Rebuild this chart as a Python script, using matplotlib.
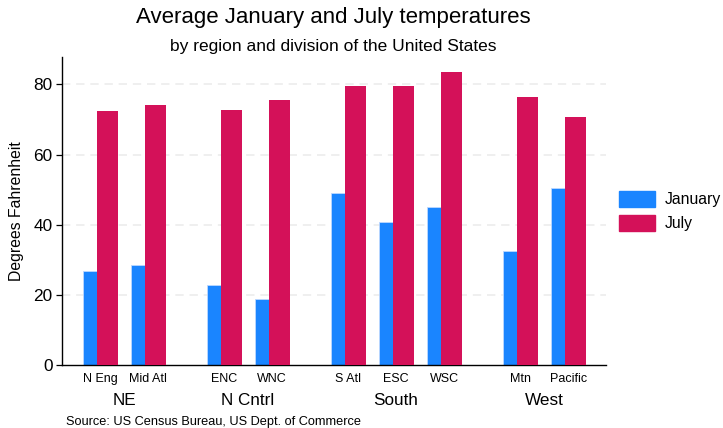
import matplotlib
matplotlib.use('Agg')
import matplotlib.pyplot as plt
import matplotlib.patches as mpatches
import numpy as np

plt.rcParams['font.family'] = ['Liberation Sans', 'DejaVu Sans']

# dados
regioes = ['NE', 'N Cntrl', 'South', 'West']
divisoes = [['N Eng', 'Mid Atl'], ['ENC', 'WNC'], ['S Atl', 'ESC', 'WSC'], ['Mtn', 'Pacific']]
janeiro = [26.9, 28.5, 22.8, 18.9, 49.1, 40.7, 45.0, 32.6, 50.4]
julho = [72.4, 74.1, 72.6, 75.5, 79.6, 79.5, 83.5, 76.4, 70.7]

cor_jan = '#1A85FF'
cor_jul = '#D41159'

fig = plt.figure(figsize=(7.23, 4.28), dpi=100)
ax = fig.add_axes([0.0862, 0.1472, 0.7518, 0.7196])

# posicoes das divisoes (espaco extra entre regioes)
gap_regiao = 1.573
posicoes = []
centros_regiao = []
x = 0.0
for i, divs in enumerate(divisoes):
    if i > 0:
        x += gap_regiao - 1
    inicio = x
    for d in divs:
        posicoes.append(x)
        x += 1
    centros_regiao.append((inicio + x - 1) / 2)
posicoes = np.array(posicoes)
nomes_div = [d for divs in divisoes for d in divs]

# barras
w_jan = 0.30
w_jul = 0.436
off = 0.06
ax.bar(posicoes - off - w_jan, janeiro, width=w_jan, align='edge', color=cor_jan,
       edgecolor='#bcd8ff', linewidth=0.6, zorder=2)
ax.bar(posicoes - off, julho, width=w_jul, align='edge', color=cor_jul,
       linewidth=0, zorder=3)

ax.set_xlim(-0.78, posicoes[-1] + 0.78)
ax.set_ylim(0, 87.8)

# grade
ax.set_yticks([0, 20, 40, 60, 80])
ax.tick_params(axis='y', labelsize=12.4, length=4, width=0.9, direction='out', pad=3)
for v in [20, 40, 60, 80]:
    ax.axhline(v, color='#ececec', linewidth=1.2, linestyle=(0, (5, 3.5)), zorder=1)

ax.set_xticks(posicoes)
ax.set_xticklabels(nomes_div, fontsize=9)
ax.tick_params(axis='x', length=0, pad=6)

for s in ['top', 'right']:
    ax.spines[s].set_visible(False)
ax.spines['left'].set_linewidth(1.0)
ax.spines['bottom'].set_linewidth(1.0)

ax.set_ylabel('Degrees Fahrenheit', fontsize=11.3, labelpad=7)

# rotulos das regioes
for c, r in zip(centros_regiao, regioes):
    ax.text(c, -10.2, r, ha='center', va='center', fontsize=12.3, transform=ax.transData)

# titulos
fig.text(0.4616, 1 - 18 / 428, 'Average January and July temperatures', ha='center', va='center', fontsize=16)
fig.text(0.4616, 1 - 46 / 428, 'by region and division of the United States', ha='center', va='center', fontsize=12.5)
fig.text(66 / 723, 1 - 422 / 428, 'Source: US Census Bureau, US Dept. of Commerce', ha='left', va='center', fontsize=9.2)

# legenda
handles = [mpatches.Patch(color=cor_jan, label='January'),
           mpatches.Patch(color=cor_jul, label='July')]
fig.legend(handles=handles, loc='center left', bbox_to_anchor=(0.845, 1 - 211 / 428),
           frameon=False, fontsize=11.3, handlelength=2.3, handleheight=1.2,
           handletextpad=0.6, labelspacing=0.45, borderpad=0)

fig.savefig('out.png', dpi=100)
